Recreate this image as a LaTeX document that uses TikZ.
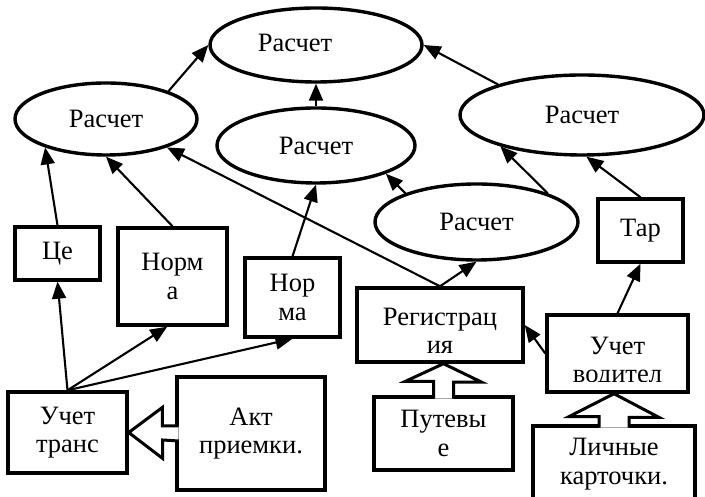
\documentclass[tikz,border=0pt]{standalone}
\usepackage{fontspec}
\setmainfont{Liberation Serif}
\usetikzlibrary{shapes.geometric,arrows.meta,calc}

\tikzset{
  oval/.style={ellipse, draw, line width=3.4pt, inner sep=0pt},
  bx/.style={rectangle, draw, line width=3.4pt, align=center, inner sep=0pt},
  arr/.style={line width=2.1pt, -{Triangle[length=17pt,width=14pt]}},
  blockarr/.style={line width=3pt, fill=white, line join=miter},
  cuttext/.style n args={3}{path picture={
    \clip ([yshift=#1]path picture bounding box.south west) rectangle (path picture bounding box.north east);
    \node[align=center] at ([yshift=#2]path picture bounding box.center) {#3};}}
}

\begin{document}
\begin{tikzpicture}[x=1pt, y=1pt, font=\fontsize{26.5}{28.5}\selectfont]

\useasboundingbox (0,0) rectangle (705,497);

% ellipses de calcul
\node[oval, minimum width=212pt, minimum height=74pt, label={[xshift=-21pt,yshift=2pt]center:Расчет}] (calcTop) at (316,452) {};
\node[oval, minimum width=182pt, minimum height=72pt] (calcL) at (106,378) {Расчет};
\node[oval, minimum width=198pt, minimum height=75pt] (calcM) at (316,351.5) {Расчет};
\node[oval, minimum width=244pt, minimum height=80pt] (calcR) at (582,382) {Расчет};
\node[oval, minimum width=203pt, minimum height=76pt] (calcW) at (476.5,275) {Расчет};

% rectangles
\node[bx, minimum width=85pt, minimum height=53pt] (cena) at (57.5,243.5) {Це};
\node[bx, minimum width=109pt, minimum height=97pt] (normaA) at (172.5,220.5) {Норм\\а};
\node[bx, minimum width=95pt, minimum height=79pt] (normaB) at (292.5,199.5) {Нор\\ма};
\node[bx, minimum width=119pt, minimum height=81pt] (uchTrans) at (67.5,64.5) {Учет\\транс};
\node[bx, minimum width=148pt, minimum height=113pt] (aktPr) at (251,63.5) {Акт\\приемки.};
\node[bx, minimum width=166pt, minimum height=74pt, cuttext={6.5pt}{-6pt}{Регистрац\\ия}] (regist) at (440,172) {};
\node[bx, minimum width=139pt, minimum height=73pt] (putev) at (443.5,63.5) {Путевы\\е};
\node[bx, minimum width=141pt, minimum height=77pt, cuttext={10.5pt}{-9pt}{Учет\\водител}] (uchVod) at (617.5,143.5) {};
\node[bx, minimum width=162pt, minimum height=76pt] (lichn) at (614,33) {Личные\\карточки.};
\node[bx, minimum width=85pt, minimum height=63pt] (tarif) at (640.5,266.5) {Тар};

% fleches
\draw[arr] (calcL.24) -- (calcTop.west);
\draw[arr] (calcM.north) -- (calcTop.south);
\draw[arr] (calcR.160) -- (calcTop.east);
\draw[arr] (cena.north) -- (calcL.205);
\draw[arr] (normaA.north) -- (calcL.south);
\draw[arr] (regist.north) -- (calcL.-25);
\draw[arr] (normaB.north) -- (calcM.south);
\draw[arr] (calcW.158) -- (calcM.-22);
\draw[arr] (calcW.22) -- (calcR.201);
\draw[arr] (tarif.north) -- (calcR.-84);
\draw[arr] (regist.north) -- (calcW.south);
\draw[arr] (uchVod.west) -- (regist.east);
\draw[arr] (uchVod.north) -- (tarif.south);
\draw[arr] (uchTrans.north) -- (cena.south);
\draw[arr] (uchTrans.north) -- (normaA.264);
\draw[arr] (uchTrans.north) -- (normaB.south);

% fleches pleines
\draw[blockarr] ([shift={(3.4pt,7.5pt)}]aktPr.west) -- ++(-16.4,0) -- ++(0,18.5) -- (uchTrans.east)
  -- ++(34,-26) -- ++(0,18.5) -- ([shift={(3.4pt,-7.5pt)}]aktPr.west);
\draw[blockarr] ([shift={(-10pt,-3.4pt)}]putev.north) -- ++(0,17.4) -- ++(-28,0) -- (putev.north |- regist.south)
  -- ++(38,-18.4) -- ++(-28,0) -- ([shift={(10pt,-3.4pt)}]putev.north);
\draw[blockarr] ([shift={(-15pt,-3.4pt)}]lichn.north) -- ++(0,11.1) -- ++(-30,0) -- (lichn.north |- uchVod.south)
  -- ++(45,-23.7) -- ++(-30,0) -- ([shift={(15pt,-3.4pt)}]lichn.north);

\end{tikzpicture}
\end{document}
